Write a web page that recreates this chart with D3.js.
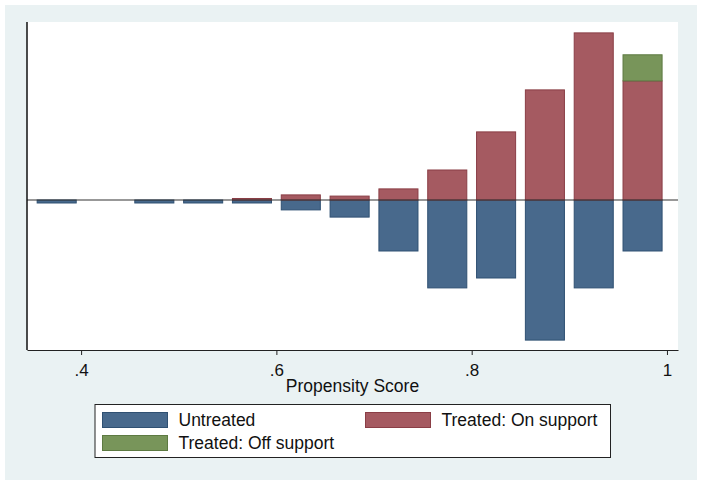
<!DOCTYPE html>
<html><head><meta charset="utf-8">
<script src="https://cdn.jsdelivr.net/npm/d3@7"></script>
<style>body{margin:0;background:#fff}svg{display:block}text{font-family:"Liberation Sans",Arial,sans-serif}</style>
</head><body><div id="chart"></div>
<script>
const binCenters = [0.375,0.475,0.525,0.575,0.625,0.675,0.725,0.775,0.825,0.875,0.925,0.975];
const untreated  = [1,1,1,1,3.3,5.7,17,29.3,26,46.7,29.3,17];
const treatedOn  = [0,0,0,0.5,1.7,1.3,3.7,10,22.7,36.7,55.7,39.7];
const treatedOff = [0,0,0,0,0,0,0,0,0,0,0,8.7];
const xTicks = [0.4,0.6,0.8,1];
const xTickLabels = [".4",".6",".8","1"];
const legendLabels = ["Untreated","Treated: On support","Treated: Off support"];
const colors = {untreated:"#48698c", on:"#a55a61", off:"#78955a"};
const strokes = {untreated:"#2f5072", on:"#8a3e46", off:"#5d7a42"};
const binWidth = 0.05, barGap = 0.005;

const W=702,H=485;
const svg=d3.select("#chart").append("svg").attr("width",W).attr("height",H);
svg.append("rect").attr("x",5).attr("y",5).attr("width",692).attr("height",475).attr("fill","#eaf2f3");
const plot={l:27,r:678,t:22,b:350};
svg.append("rect").attr("x",plot.l).attr("y",plot.t).attr("width",plot.r-plot.l).attr("height",plot.b-plot.t).attr("fill","#fff");

const x=d3.scaleLinear().domain([0.3446,1.0113]).range([plot.l,plot.r]);
const y=d3.scaleLinear().domain([-50,59.33]).range([plot.b,plot.t]);

const g=svg.append("g");
binCenters.forEach((c,i)=>{
  const x0=x(c-binWidth/2+barGap), x1=x(c+binWidth/2-barGap);
  if(untreated[i]>0) g.append("rect").attr("x",x0).attr("width",x1-x0)
    .attr("y",y(0)).attr("height",y(-untreated[i])-y(0))
    .attr("fill",colors.untreated).attr("stroke",strokes.untreated).attr("stroke-width",1);
  if(treatedOn[i]>0) g.append("rect").attr("x",x0).attr("width",x1-x0)
    .attr("y",y(treatedOn[i])).attr("height",y(0)-y(treatedOn[i]))
    .attr("fill",colors.on).attr("stroke",strokes.on).attr("stroke-width",1);
  if(treatedOff[i]>0) g.append("rect").attr("x",x0).attr("width",x1-x0)
    .attr("y",y(treatedOn[i]+treatedOff[i])).attr("height",y(treatedOn[i])-y(treatedOn[i]+treatedOff[i]))
    .attr("fill",colors.off).attr("stroke",strokes.off).attr("stroke-width",1);
});
svg.append("line").attr("x1",plot.l).attr("x2",plot.r).attr("y1",y(0)).attr("y2",y(0)).attr("stroke","#333").attr("stroke-width",1.2);

// axes
svg.append("line").attr("x1",plot.l).attr("x2",plot.l).attr("y1",plot.t).attr("y2",plot.b).attr("stroke","#111").attr("stroke-width",1.5);
const xa=svg.append("g").attr("transform",`translate(0,${plot.b})`)
  .call(d3.axisBottom(x).tickValues(xTicks).tickFormat((d,i)=>xTickLabels[i]).tickSizeInner(5).tickSizeOuter(0).tickPadding(9));
xa.select(".domain").attr("stroke","#222").attr("stroke-width",1.2);
xa.selectAll(".tick line").attr("stroke","#222");
xa.selectAll("text").attr("font-size",17).attr("fill","#111").attr("font-family","'Liberation Sans',Arial,sans-serif");
svg.append("text").attr("x",(plot.l+plot.r)/2).attr("y",392).attr("text-anchor","middle").attr("font-size",17.5).attr("fill","#111").text("Propensity Score");

// legend
svg.append("rect").attr("x",95).attr("y",404.5).attr("width",515.5).attr("height",53).attr("fill","#fff").attr("stroke","#222").attr("stroke-width",1);
const leg=[{k:"untreated",x:102.5,y:412.5,ty:425.5},{k:"on",x:365.5,y:412.5,ty:425.5},{k:"off",x:102.5,y:435.5,ty:449}];
leg.forEach((d,i)=>{
  svg.append("rect").attr("x",d.x).attr("y",d.y).attr("width",65).attr("height",15)
    .attr("fill",colors[d.k]).attr("stroke",strokes[d.k]).attr("stroke-width",1);
  svg.append("text").attr("x",d.x+76).attr("y",d.ty).attr("font-size",17.5).attr("fill","#111").text(legendLabels[i]);
});
</script></body></html>
